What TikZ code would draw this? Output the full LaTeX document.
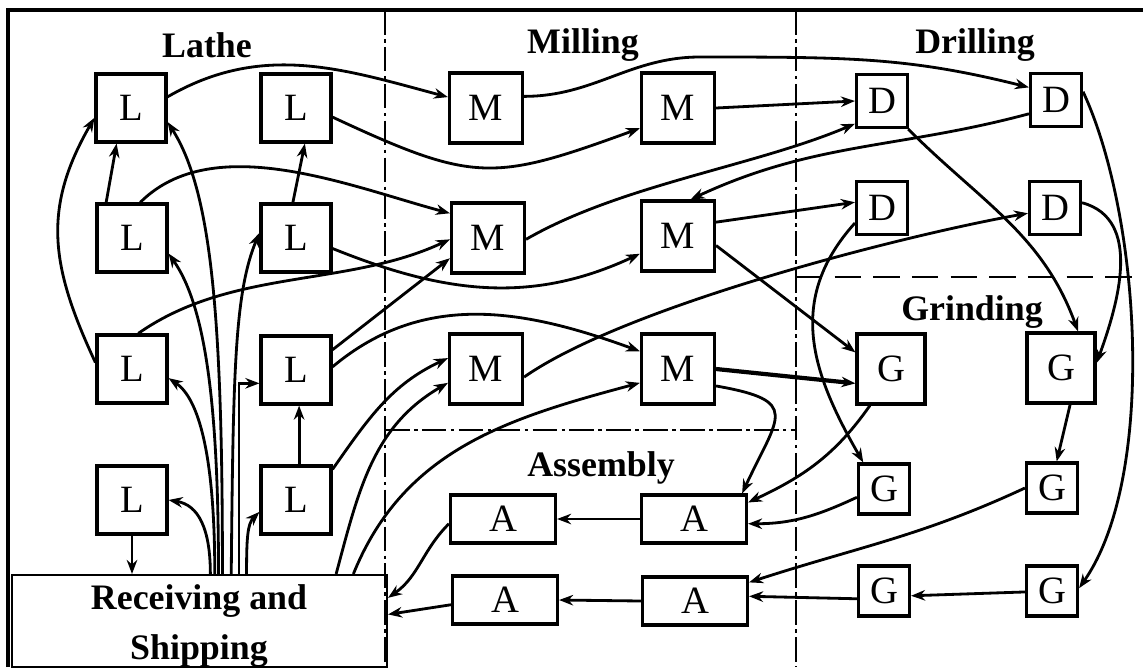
\documentclass[tikz,border=0pt]{standalone}
\usepackage{fontspec}
\setmainfont{Liberation Serif}
\usetikzlibrary{arrows.meta}

\begin{document}
\begin{tikzpicture}[
    x=0.02cm, y=-0.02cm,
    box/.style={rectangle, draw=black, line width=1.8pt, fill=white, inner sep=0pt, font=\fontsize{22}{22}\selectfont},
    lbox/.style={box, minimum width=1.40cm, minimum height=1.36cm},
    mbox/.style={box, minimum width=1.46cm, minimum height=1.40cm},
    dbox/.style={box, minimum width=1.02cm, minimum height=1.06cm},
    gbig/.style={box, minimum width=1.36cm, minimum height=1.40cm},
    gbox/.style={box, minimum width=1.02cm, minimum height=1.00cm},
    abox/.style={box, minimum width=2.10cm, minimum height=0.96cm},
    area/.style={font=\bfseries\fontsize{20.4}{28}\selectfont},
    divider/.style={line width=1.6pt, dash pattern=on 14pt off 2.5pt on 2pt off 2.5pt},
    split/.style={line width=1.4pt, dash pattern=on 15pt off 7pt},
    flow/.style={-{Stealth[length=8pt,width=6pt]}, line width=1.6pt}
]
    \useasboundingbox (0,0) rectangle (1143,667);

    % Frame and department borders
    \draw[line width=1.8pt] (8,667) -- (8,10) -- (1143,10);
    \draw[divider] (385,10) -- (385,667);
    \draw[divider] (796,10) -- (796,667);
    \draw[split] (796,277) -- (1143,277);
    \draw[divider] (385,430) -- (796,430);

    % Department names
    \node[area] (lathe) at (207,45) {Lathe};
    \node[area] (milling) at (583,45) {Milling};
    \node[area] (drilling) at (975,45) {Drilling};
    \node[area] (grinding) at (972,312) {Grinding};
    \node[area] (assembly) at (601,468) {Assembly};

    % Receiving and Shipping
    \node[rectangle, draw=black, line width=1.2pt, minimum width=7.5cm, minimum height=1.84cm] (R) at (199.5,621) {};
    \node[area, align=center] (rstext) at (199,626) {Receiving and\\Shipping};

    % Lathes
    \node[lbox] (L1) at (131,108) {L};
    \node[lbox] (L2) at (296,108) {L};
    \node[lbox] (L3) at (132,238) {L};
    \node[lbox] (L4) at (296,238) {L};
    \node[lbox] (L5) at (132,369) {L};
    \node[lbox] (L6) at (296,370) {L};
    \node[lbox] (L7) at (132,500) {L};
    \node[lbox] (L8) at (296,500) {L};

    % Milling machines
    \node[mbox] (M1) at (486,108) {M};
    \node[mbox] (M2) at (678,108) {M};
    \node[mbox] (M3) at (488,238) {M};
    \node[mbox] (M4) at (678,236) {M};
    \node[mbox] (M5) at (486,369) {M};
    \node[mbox] (M6) at (678,369) {M};

    % Drills
    \node[dbox] (D1) at (882,101) {D};
    \node[dbox] (D2) at (1056,100) {D};
    \node[dbox] (D3) at (882,208) {D};
    \node[dbox] (D4) at (1055,208) {D};

    % Grinders
    \node[gbig] (G1) at (891,369) {G};
    \node[gbig] (G2) at (1061,368) {G};
    \node[gbox] (G3) at (884,489) {G};
    \node[gbox] (G4) at (1052,488) {G};
    \node[gbox] (G5) at (884,591) {G};
    \node[gbox] (G6) at (1052,591) {G};

    % Assembly
    \node[abox] (A1) at (503,519) {A};
    \node[abox] (A2) at (694,519) {A};
    \node[abox] (A3) at (505,600) {A};
    \node[abox] (A4) at (695,601) {A};

    % Receiving to lathes
    \draw[flow] (R.64) .. controls +(0,-250) and +(45,70) .. (L1.-21);
    \draw[flow] (R.68) .. controls +(0,-180) and +(35,50) .. (L3.-23);
    \draw[flow] (R.56) .. controls +(2,-200) and +(-25,60) .. (L4.172);
    \draw[flow] (R.72) .. controls +(0,-120) and +(30,20) .. (L5.-14);
    \draw[flow] (R.50) |- (L6.200);
    \draw[flow] (R.77) .. controls +(0,-45) and +(30,5) .. (L7.east);
    \draw[flow] (R.45) .. controls +(0,-35) and +(-12,12) .. (L8.198);
    \draw[flow] (L7.south) -- (L7.south |- R.north);

    % Lathe area
    \draw[flow] (L3.126) -- (L1.248);
    \draw[flow] (L4.95) -- (L2.-76);
    \draw[flow] (L8.85) -- (L6.-85);
    \draw[flow] (L5.170) to[out=115,in=240,looseness=1.1] (L1.195);

    % Lathes to milling
    \draw[flow] (L1.17) to[out=30,in=165] (M1.164);
    \draw[flow] (L2.-14) to[out=-25,in=200,looseness=1.3] (M2.208);
    \draw[flow] (L3.77) to[out=45,in=165,looseness=0.85] (M3.147);
    \draw[flow] (L4.-16) to[out=-22,in=205] (M4.205);
    \draw[flow] (L5.80) to[out=35,in=205,looseness=0.9] (M3.182);
    \draw[flow] (L6.29) -- (M3.208);
    \draw[flow] (L6.5) to[out=40,in=160] (M6.155);
    \draw[flow] (L8.40) to[out=55,in=205] (M5.164);
    \draw[flow] (R.19) to[out=75,in=210] (M5.200);
    \draw[flow] (R.17) to[out=68,in=195] (M6.200);

    % Milling to drilling and grinding
    \draw[flow] (M1.17) .. controls +(70,0) and +(-70,0) .. (700,57) .. controls +(150,0) and +(-120,-30) .. (D2.155);
    \draw[flow] (M2.east) -- (D1.west);
    \draw[flow] (M3.-2) to[out=30,in=203,looseness=0.8] (D1.220);
    \draw[flow] (D2.207) to[out=195,in=25] (M4.71);
    \draw[flow] (M4.20) -- (D3.168);
    \draw[flow] (M4.-14) -- (G1.155);
    \draw[flow] (M5.-12) to[out=35,in=190,looseness=0.6] (D4.191);
    \draw[flow, line width=2.4pt] (M6.east) -- (G1.202);
    \draw[flow] (M6.-24) to[out=-10,in=65,looseness=2] (A2.28);

    % Drilling to grinding
    \draw[flow] (D1.-47) to[out=-45,in=110] (G2.65);
    \draw[flow] (D4.11) to[out=-15,in=70] (G2.8);
    \draw[flow] (D2.17) to[out=-65,in=55,looseness=0.7] (G6.6);
    \draw[flow] (D3.209) to[out=228,in=120,looseness=1.1] (G3.128);
    \draw[flow] (G2.-76) -- (G4.80);
    \draw[flow] (G6.182) -- (G5.-10);

    % Grinding to assembly
    \draw[flow] (G1.240) to[out=235,in=25] (A2.17);
    \draw[flow] (G3.197) to[out=205,in=0] (A2.-5);
    \draw[flow] (G4.west) to[out=205,in=18] (A4.19);
    \draw[flow] (G5.196) -- (A4.5);

    % Assembly to shipping
    \draw[flow] (A2.west) -- (A1.east);
    \draw[flow] (A4.west) -- (A3.east);
    \draw[flow] (A1.185) to[out=225,in=35] (R.7);
    \draw[flow] (A3.185) -- (R.2);
\end{tikzpicture}
\end{document}
